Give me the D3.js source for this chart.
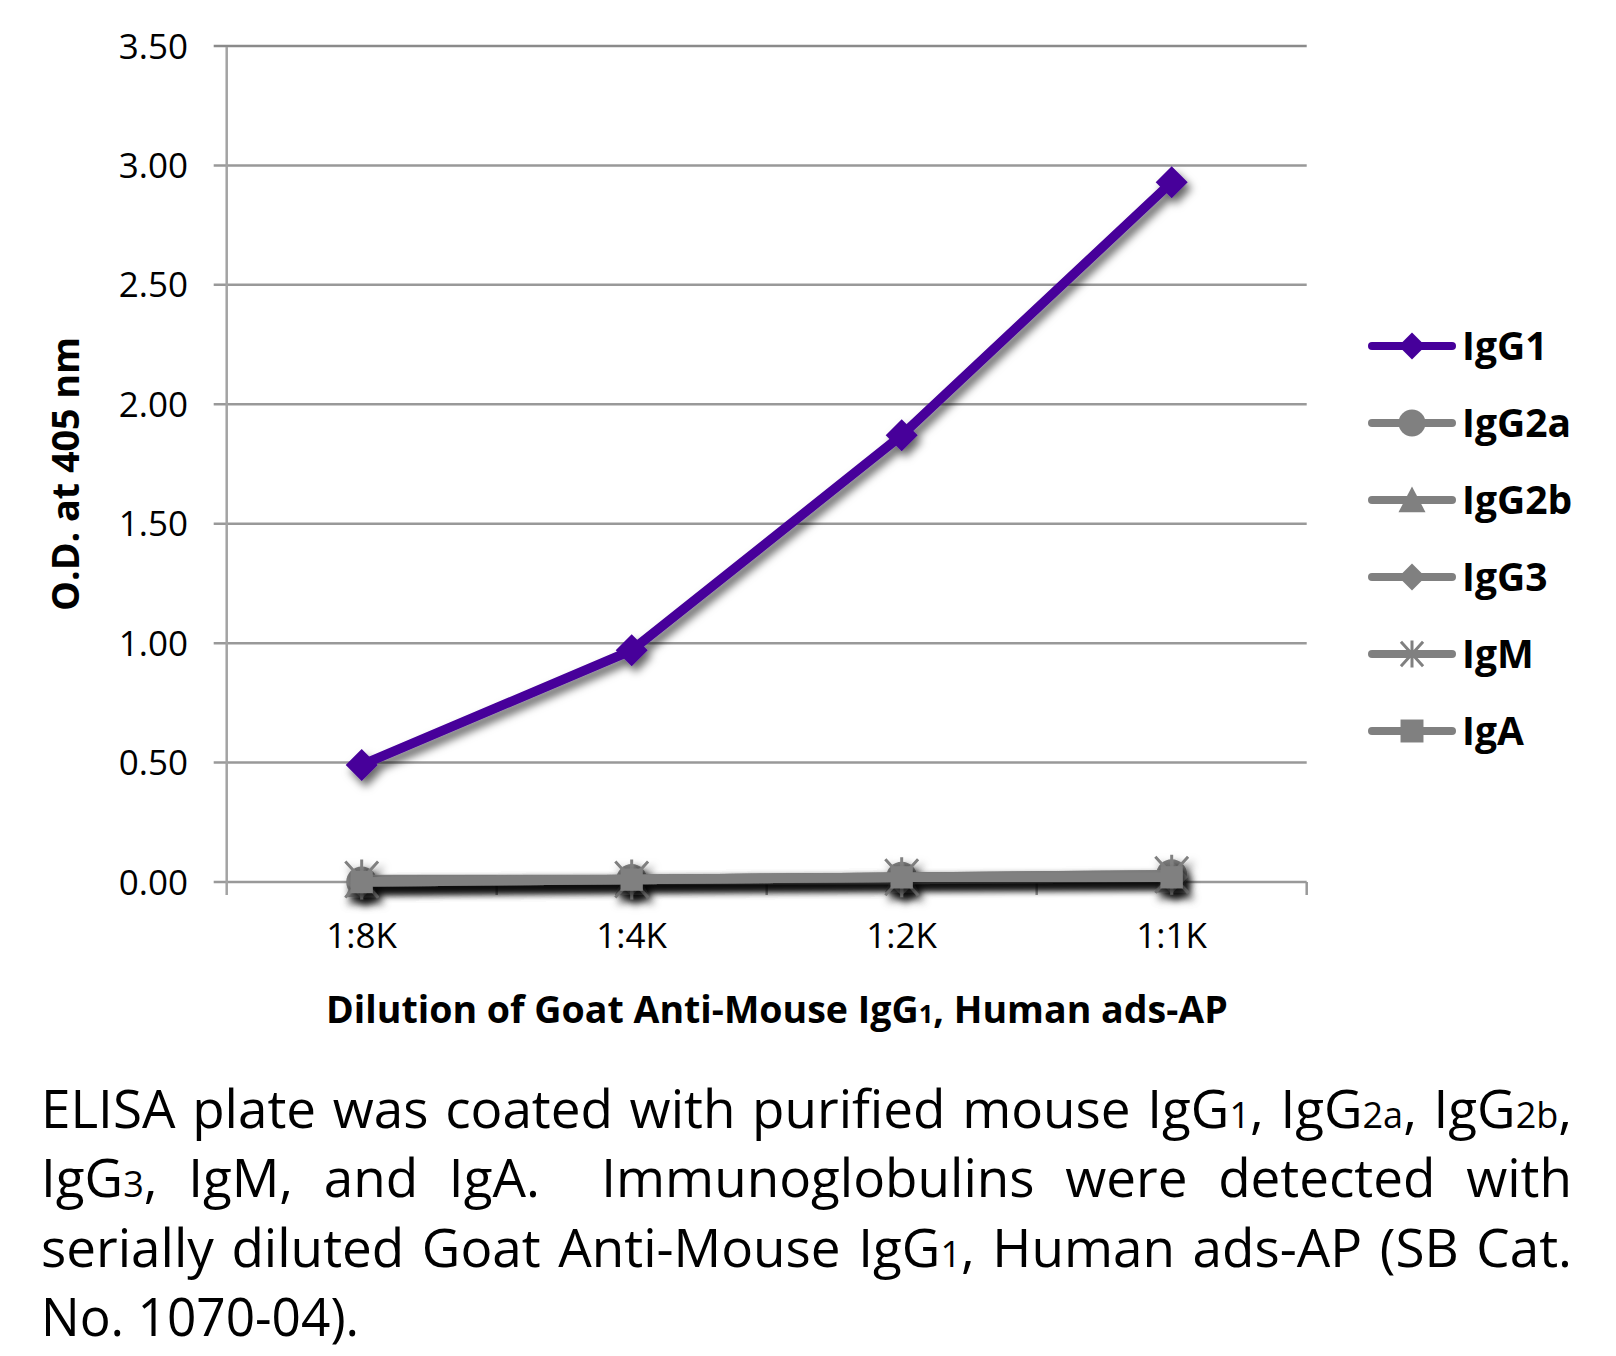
<!DOCTYPE html>
<html>
<head>
<meta charset="utf-8">
<script src="https://cdn.jsdelivr.net/npm/d3@7"></script>
<style>
  html, body { margin: 0; padding: 0; background: #fff; }
  svg { display: block; font-family: "Open Sans", "Noto Sans", sans-serif; }
</style>
</head>
<body>
<svg id="chart" width="1616" height="1356"></svg>
<script>
// ---------- data ----------
const categories = ["1:8K", "1:4K", "1:2K", "1:1K"];
const seriesNames = ["IgG1", "IgG2a", "IgG2b", "IgG3", "IgM", "IgA"];
const igg1Values  = [0.49, 0.97, 1.87, 2.93];
const igg2aValues = [0.00, 0.01, 0.02, 0.03];
const igg2bValues = [0.00, 0.01, 0.02, 0.02];
const igg3Values  = [0.00, 0.01, 0.01, 0.02];
const igmValues   = [0.01, 0.01, 0.02, 0.03];
const igaValues   = [0.00, 0.01, 0.02, 0.02];
const yTickValues = [0, 0.5, 1.0, 1.5, 2.0, 2.5, 3.0, 3.5];
const yTickLabels = ["0.00", "0.50", "1.00", "1.50", "2.00", "2.50", "3.00", "3.50"];
const xAxisTitle = "Dilution of Goat Anti-Mouse IgG{1}, Human ads-AP";
const yAxisTitle = "O.D. at 405 nm";
const captionLines = [
  "ELISA plate was coated with purified mouse IgG{1}, IgG{2a}, IgG{2b},",
  "IgG{3}, IgM, and IgA.  Immunoglobulins were detected with",
  "serially diluted Goat Anti-Mouse IgG{1}, Human ads-AP (SB Cat.",
  "No. 1070-04)."
];

// ---------- styles ----------
const purple = "#46009a";
const gray = "#808080";
const seriesValues = [igg1Values, igg2aValues, igg2bValues, igg3Values, igmValues, igaValues];
const seriesColors = [purple, gray, gray, gray, gray, gray];
const seriesMarkers = ["diamond", "circle", "triangle", "diamond", "asterisk", "square"];

const svg = d3.select("#chart");
const defs = svg.append("defs");
const f = defs.append("filter").attr("id", "shadow")
  .attr("x", "-50%").attr("y", "-50%").attr("width", "200%").attr("height", "200%");
f.append("feDropShadow").attr("dx", 4).attr("dy", 6).attr("stdDeviation", 4)
  .attr("flood-color", "#000").attr("flood-opacity", 0.6);

// ---------- scales ----------
const plotLeft = 226.7, plotRight = 1306.7, plotTop = 46, plotBottom = 882;
const x = d3.scaleBand().domain(categories).range([plotLeft, plotRight]).padding(0);
const y = d3.scaleLinear().domain([0, 3.5]).range([plotBottom, plotTop]);
const cx = d => x(d) + x.bandwidth() / 2;

// gridlines
svg.append("g").selectAll("line").data(yTickValues).join("line")
  .attr("x1", plotLeft - 13).attr("x2", plotRight)
  .attr("y1", d => y(d)).attr("y2", d => y(d))
  .attr("stroke", (d, i) => i === yTickValues.length - 1 ? "#8a8a8a" : "#999")
  .attr("stroke-width", 2.5);

// y axis line
svg.append("line").attr("x1", plotLeft).attr("x2", plotLeft)
  .attr("y1", plotTop + 1).attr("y2", plotBottom + 13)
  .attr("stroke", "#a3a3a3").attr("stroke-width", 2.5);

// x axis tick marks at band edges
const edges = categories.map(c => x(c)).concat([plotRight]);
svg.append("g").selectAll("line").data(edges.slice(1)).join("line")
  .attr("x1", d => d).attr("x2", d => d)
  .attr("y1", plotBottom).attr("y2", plotBottom + 13)
  .attr("stroke", "#999").attr("stroke-width", 2.5);

// y tick labels
svg.append("g").selectAll("text").data(yTickValues).join("text")
  .attr("x", 188).attr("y", d => y(d) + 12.5)
  .attr("text-anchor", "end").attr("font-size", 35).attr("fill", "#000")
  .text((d, i) => yTickLabels[i]);

// x tick labels
svg.append("g").selectAll("text").data(categories).join("text")
  .attr("x", d => cx(d)).attr("y", 948)
  .attr("text-anchor", "middle").attr("font-size", 35).attr("fill", "#000")
  .text(d => d);

// ---------- markers ----------
function drawMarker(g, type, px, py, color, s) {
  if (type === "diamond") {
    g.append("path").attr("d", `M${px},${py - s}L${px + s},${py}L${px},${py + s}L${px - s},${py}Z`).attr("fill", color);
  } else if (type === "circle") {
    g.append("circle").attr("cx", px).attr("cy", py).attr("r", s).attr("fill", color);
  } else if (type === "triangle") {
    g.append("path").attr("d", `M${px},${py - s}L${px + s},${py + s * 0.9}L${px - s},${py + s * 0.9}Z`).attr("fill", color);
  } else if (type === "square") {
    const h = s * 0.85;
    g.append("rect").attr("x", px - h).attr("y", py - h).attr("width", 2 * h).attr("height", 2 * h).attr("fill", color);
  } else if (type === "asterisk") {
    const dx = s * 0.82, dy = s * 0.9;
    g.append("path")
      .attr("d", `M${px},${py - s}L${px},${py + s}M${px - dx},${py - dy}L${px + dx},${py + dy}M${px + dx},${py - dy}L${px - dx},${py + dy}`)
      .attr("stroke", color).attr("stroke-width", 3).attr("fill", "none");
  }
}
const plotMarkerSize = { diamond: 16, circle: 15.5, triangle: 17, square: 13, asterisk: 20 };

// ---------- series ----------
const line = d3.line().x((d, i) => cx(categories[i])).y(d => y(d));
const plotG = svg.append("g");
const order = [1, 2, 3, 4, 5, 0];
order.forEach(si => {
  const g = plotG.append("g").attr("filter", "url(#shadow)");
  g.append("path").datum(seriesValues[si]).attr("d", line)
    .attr("fill", "none").attr("stroke", seriesColors[si]).attr("stroke-width", 9.5)
    .attr("stroke-linejoin", "round");
  seriesValues[si].forEach((v, i) => {
    drawMarker(g, seriesMarkers[si], cx(categories[i]), y(v), seriesColors[si], plotMarkerSize[seriesMarkers[si]]);
  });
});

// ---------- legend ----------
const legendY0 = 346, legendStep = 77;
seriesNames.forEach((name, i) => {
  const ly = legendY0 + i * legendStep;
  const g = svg.append("g");
  g.append("line").attr("x1", 1372).attr("x2", 1452).attr("y1", ly).attr("y2", ly)
    .attr("stroke", seriesColors[i]).attr("stroke-width", 8).attr("stroke-linecap", "round");
  drawMarker(g, seriesMarkers[i], 1412, ly, seriesColors[i], 13.5);
  g.append("text").attr("x", 1462).attr("y", ly + 14)
    .attr("font-size", 39).attr("font-weight", "bold").attr("fill", "#000").text(name);
});

// ---------- rich text helper ----------
function fillRich(textSel, str, smallScale) {
  const parts = str.split(/([{}])/);
  let small = false;
  parts.forEach(p => {
    if (p === "{") { small = true; return; }
    if (p === "}") { small = false; return; }
    if (p === "") return;
    const ts = textSel.append("tspan").text(p);
    if (small) ts.attr("font-size", (smallScale * 100) + "%");
  });
}

// x axis title
(function () {
  const targetW = 902, cxT = 777;
  const t = svg.append("text").attr("x", 0).attr("y", 0)
    .attr("font-size", 38).attr("font-weight", "bold").attr("fill", "#000")
    .attr("xml:space", "preserve");
  fillRich(t, xAxisTitle, 0.68);
  const w = t.node().getComputedTextLength();
  const k = targetW / w;
  t.attr("transform", `translate(${cxT - targetW / 2},1023) scale(${k},1)`);
})();

// y axis title
(function () {
  const targetW = 274;
  const t = svg.append("text").attr("x", 0).attr("y", 0)
    .attr("font-size", 37).attr("font-weight", "bold").attr("fill", "#000")
    .attr("text-anchor", "middle").text(yAxisTitle);
  const w = t.node().getComputedTextLength();
  const k = targetW / w;
  t.attr("transform", `translate(79,474) rotate(-90) scale(${k},1)`);
})();

// ---------- caption (justified) ----------
(function () {
  const left = 41, right = 1572, W = right - left;
  const baseY = 1128, step = 69.4, fs = 53;
  captionLines.forEach((ln, li) => {
    const raw = ln.split(" ");
    const words = [], weights = [];
    let pending = 0;
    raw.forEach(w => {
      if (w === "") { pending += 1; return; }
      if (words.length > 0) weights.push(1 + pending);
      pending = 0;
      words.push(w);
    });
    const g = svg.append("g");
    const nodes = words.map(w => {
      const t = g.append("text").attr("font-size", fs).attr("fill", "#000").attr("y", 0);
      fillRich(t, w, 0.68);
      return t;
    });
    const widths = nodes.map(n => n.node().getComputedTextLength());
    const sum = d3.sum(widths);
    const totalWeight = d3.sum(weights);
    const minGap = fs * 0.24;
    const justify = li < captionLines.length - 1;
    let k = 1, gap;
    if (justify) {
      if (sum + minGap * totalWeight > W) {
        k = W / (sum + minGap * totalWeight);
        gap = minGap;
      } else {
        gap = (W - sum) / totalWeight;
      }
    } else {
      gap = fs * 0.26;
      k = 0.97;
    }
    let cur = 0;
    nodes.forEach((n, i) => {
      n.attr("x", cur);
      cur += widths[i] + (i < weights.length ? gap * weights[i] : 0);
    });
    g.attr("transform", `translate(${left},${baseY + li * step}) scale(${k},1)`);
  });
})();
</script>
</body>
</html>
